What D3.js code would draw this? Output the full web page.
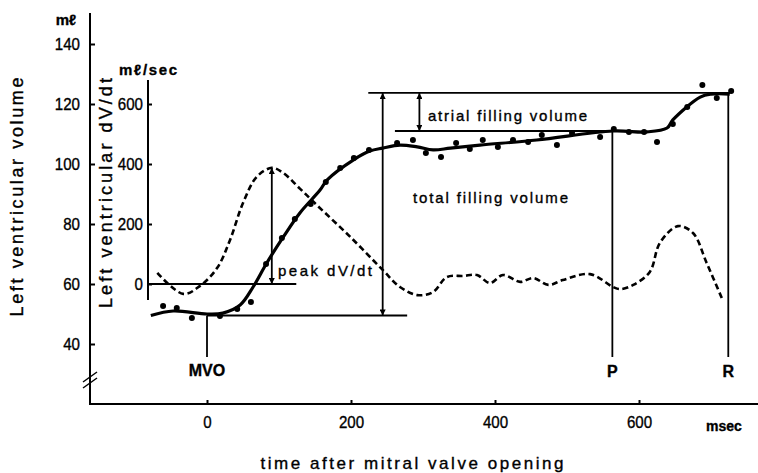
<!DOCTYPE html>
<html>
<head>
<meta charset="utf-8">
<script src="https://cdn.jsdelivr.net/npm/d3@7"></script>
<style>
  body { margin: 0; background: #fff; }
  svg { display: block; }
  text { font-family: "Liberation Sans", Arial, sans-serif; fill: #000; stroke: #000; stroke-width: 0.35px; }
  .num { font-size: 17px; }
</style>
</head>
<body>
<svg id="chart" width="758" height="473"></svg>
<script>
// time axis (msec) and tick values
const xTicks = [0, 200, 400, 600];
const volTicks = [40, 60, 80, 100, 120, 140];
const dvdtTicks = [0, 200, 400, 600];

// fitted volume curve (msec, ml)
const volCurveT = [-78, -47, 0, 22, 46, 64, 83, 106, 129, 157, 167, 203, 226, 244, 268, 292, 314, 338, 379, 458, 564, 611, 639, 647, 685, 700, 726];
const volCurveV = [49.5, 51, 50, 50.3, 53, 59, 67, 75.7, 83.7, 91.3, 94.7, 101.3, 104.3, 105.3, 106.3, 105.7, 104.7, 105.3, 106.3, 108, 111, 110.7, 112, 114.7, 122.3, 123.3, 123.3];

// measured volume points (msec, ml)
const dotT = [-61, -42, -21, 18, 42, 61, 82, 104, 122, 144, 165, 185, 204, 225, 264, 286, 304, 325, 346, 365, 383, 404, 425, 446, 465, 486, 507, 546, 565, 586, 607, 625, 647, 667, 688, 708, 728];
const dotV = [52.7, 52, 48.7, 49.3, 51.7, 54, 66.7, 75.3, 81.7, 86.7, 94, 98.7, 102, 104.7, 107, 108, 103.7, 102.3, 107, 105, 108, 105.7, 108, 107.3, 109.7, 106.3, 110.3, 109, 111.7, 110.7, 110.7, 107.3, 113.3, 119, 126.3, 122, 124.3];

// dV/dt curve (msec, ml/sec)
const dvdtT = [-69, -33, -10, 14, 32, 50, 69, 90, 106, 129, 153, 199, 244, 268, 292, 314, 333, 356, 375, 393, 411, 435, 453, 474, 494, 532, 564, 574, 592, 615, 629, 654, 675, 694, 715];
const dvdtV = [37, -33, -7, 53, 147, 270, 357, 387, 370, 318, 262, 157, 47, -10, -37, -27, 23, 27, 30, 3, 30, 7, 20, -3, 13, 33, -10, -17, -3, 40, 137, 193, 170, 70, -47];

// annotation values
const baseVol = 49.5, topVol = 123.7, atrialLowVol = 111;
const peakT = 90, peakD = 387;
const totalArrowT = 244, atrialArrowT = 295;
const mvoT = 0, pT = 563, rT = 724;

const svg = d3.select('#chart');

const x = d3.scaleLinear().domain([0, 600]).range([207, 639]);
const yV = d3.scaleLinear().domain([40, 140]).range([344, 44]);
const yD = d3.scaleLinear().domain([0, 600]).range([284, 104]);

const axisX = 90, innerX = 148, baseY = 404;

// condensed digits like the original lettering
const narrow = g => g.selectAll('text')
  .attr('class', 'num').attr('font-family', null).attr('font-size', null)
  .attr('textLength', function() { return this.textContent.length * 8.4; })
  .attr('lengthAdjust', 'spacingAndGlyphs');

// arrow markers
const defs = svg.append('defs');
['up', 'down'].forEach(dir => {
  defs.append('marker')
    .attr('id', 'arr-' + dir)
    .attr('viewBox', '0 0 10 10')
    .attr('refX', 5).attr('refY', dir === 'up' ? 0 : 10)
    .attr('markerWidth', 6).attr('markerHeight', 10)
    .attr('markerUnits', 'userSpaceOnUse')
    .attr('orient', 0)
    .append('path')
    .attr('d', dir === 'up' ? 'M0,10L5,0L10,10Z' : 'M0,0L5,10L10,0Z')
    .attr('fill', '#000');
});

// left volume axis
svg.append('line')
  .attr('x1', axisX).attr('x2', axisX).attr('y1', 13).attr('y2', baseY)
  .attr('stroke', '#000').attr('stroke-width', 2);
svg.append('g')
  .attr('transform', `translate(${axisX},0)`)
  .call(d3.axisLeft(yV).tickValues(volTicks).tickSizeInner(-5).tickSizeOuter(0).tickPadding(10))
  .call(g => g.select('.domain').remove())
  .call(g => g.selectAll('line').attr('stroke-width', 2))
  .call(narrow);
// axis break
[0, 6].forEach(o => {
  svg.append('line')
    .attr('x1', axisX - 7).attr('y1', 388 - o).attr('x2', axisX + 7).attr('y2', 378 - o)
    .attr('stroke', '#000').attr('stroke-width', 1.5);
});
svg.append('text').attr('x', 66).attr('y', 25).attr('text-anchor', 'middle')
  .attr('font-size', 15).attr('font-weight', 'bold').text('mℓ');
svg.append('text')
  .attr('transform', 'translate(23,197) rotate(-90)')
  .attr('text-anchor', 'middle').attr('font-size', 18)
  .attr('textLength', 239).attr('lengthAdjust', 'spacing')
  .text('Left ventricular volume');

// inner dV/dt axis
svg.append('line')
  .attr('x1', innerX).attr('x2', innerX).attr('y1', 80).attr('y2', 300)
  .attr('stroke', '#000').attr('stroke-width', 2);
svg.append('g')
  .attr('transform', `translate(${innerX},0)`)
  .call(d3.axisLeft(yD).tickValues(dvdtTicks).tickSizeInner(-4).tickSizeOuter(0).tickPadding(5))
  .call(g => g.select('.domain').remove())
  .call(g => g.selectAll('line').attr('stroke-width', 2))
  .call(narrow);
svg.append('text').attr('x', 148).attr('y', 75).attr('text-anchor', 'middle')
  .attr('font-size', 15).attr('font-weight', 'bold').attr('textLength', 58).attr('lengthAdjust', 'spacing')
  .text('mℓ/sec');
svg.append('text')
  .attr('transform', 'translate(112,193) rotate(-90)')
  .attr('text-anchor', 'middle').attr('font-size', 18)
  .attr('textLength', 230).attr('lengthAdjust', 'spacing')
  .text('Left ventricular dV/dt');

// time axis
svg.append('line')
  .attr('x1', axisX - 1).attr('x2', 758).attr('y1', baseY).attr('y2', baseY)
  .attr('stroke', '#000').attr('stroke-width', 2);
svg.append('g')
  .attr('transform', `translate(0,${baseY})`)
  .call(d3.axisBottom(x).tickValues(xTicks).tickFormat(d3.format('d')).tickSizeInner(-4).tickSizeOuter(0).tickPadding(12))
  .call(g => g.select('.domain').remove())
  .call(g => g.selectAll('line').attr('stroke-width', 2))
  .call(narrow);
svg.append('text').attr('x', 724).attr('y', 431).attr('text-anchor', 'middle')
  .attr('font-size', 14).attr('font-weight', 'bold').text('msec');
svg.append('text').attr('x', 412).attr('y', 469).attr('text-anchor', 'middle')
  .attr('font-size', 17).attr('textLength', 303).attr('lengthAdjust', 'spacing')
  .text('time after mitral valve opening');

const hLine = (t1, t2, yy) => svg.append('line')
  .attr('x1', x(t1)).attr('x2', x(t2)).attr('y1', yy).attr('y2', yy)
  .attr('stroke', '#000').attr('stroke-width', 1.8);
const vLine = (t, y1, y2) => svg.append('line')
  .attr('x1', x(t)).attr('x2', x(t)).attr('y1', y1).attr('y2', y2)
  .attr('stroke', '#000').attr('stroke-width', 1.8);

// reference lines
hLine(-82, 124, yD(0));
hLine(0, 278, yV(baseVol));
hLine(224, 727, yV(topVol));
hLine(261, pT, yV(atrialLowVol));
vLine(mvoT, yV(baseVol), 357);
vLine(pT, yV(atrialLowVol), 357);
vLine(rT, yV(topVol), 357);

// double arrows
const dArrow = (t, y1, y2) => vLine(t, y1, y2)
  .attr('marker-start', 'url(#arr-up)').attr('marker-end', 'url(#arr-down)');
dArrow(peakT, yD(peakD), yD(0));
dArrow(totalArrowT, yV(topVol), yV(baseVol));
dArrow(atrialArrowT, yV(topVol), yV(atrialLowVol));

// dV/dt dashed curve
const dvdt = dvdtT.map((t, i) => [t, dvdtV[i]]);
svg.append('path')
  .datum(dvdt)
  .attr('fill', 'none').attr('stroke', '#000').attr('stroke-width', 2.6)
  .attr('stroke-dasharray', '6,3.5')
  .attr('d', d3.line().curve(d3.curveCatmullRom).x(d => x(d[0])).y(d => yD(d[1])));

// volume curve
const vol = volCurveT.map((t, i) => [t, volCurveV[i]]);
svg.append('path')
  .datum(vol)
  .attr('fill', 'none').attr('stroke', '#000').attr('stroke-width', 3.2)
  .attr('d', d3.line().curve(d3.curveCatmullRom).x(d => x(d[0])).y(d => yV(d[1])));

svg.append('g')
  .selectAll('circle')
  .data(dotT)
  .join('circle')
  .attr('cx', d => x(d))
  .attr('cy', (d, i) => yV(dotV[i]))
  .attr('r', 3)
  .attr('fill', '#000');

// labels
svg.append('text').attr('x', x(mvoT)).attr('y', 376).attr('text-anchor', 'middle')
  .attr('font-size', 16).attr('font-weight', 'bold').text('MVO');
svg.append('text').attr('x', x(pT)).attr('y', 377).attr('text-anchor', 'middle')
  .attr('font-size', 16).attr('font-weight', 'bold').text('P');
svg.append('text').attr('x', x(rT)).attr('y', 377).attr('text-anchor', 'middle')
  .attr('font-size', 16).attr('font-weight', 'bold').text('R');
svg.append('text').attr('x', 278).attr('y', 276)
  .attr('font-size', 15).attr('textLength', 94).attr('lengthAdjust', 'spacing').text('peak dV/dt');
svg.append('text').attr('x', 428).attr('y', 121)
  .attr('font-size', 15).attr('textLength', 159).attr('lengthAdjust', 'spacing').text('atrial filling volume');
svg.append('text').attr('x', 413).attr('y', 203)
  .attr('font-size', 15).attr('textLength', 155).attr('lengthAdjust', 'spacing').text('total filling volume');
</script>
</body>
</html>
